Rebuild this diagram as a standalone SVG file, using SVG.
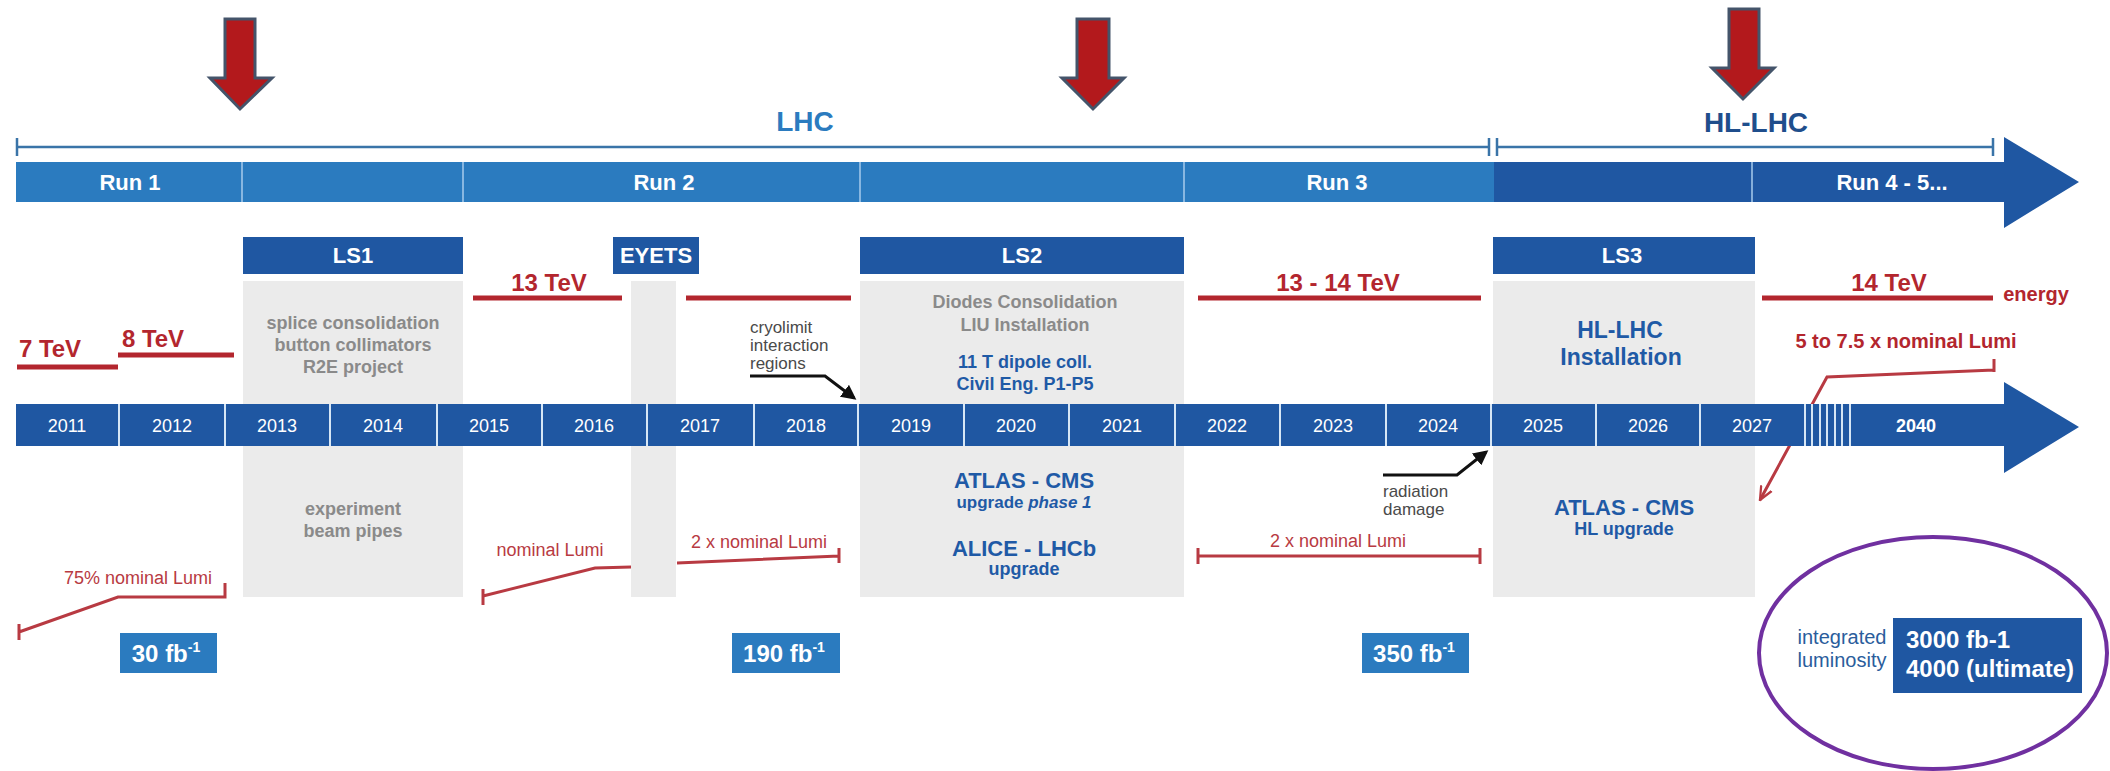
<svg xmlns="http://www.w3.org/2000/svg" width="2110" height="771" viewBox="0 0 2110 771">
<defs>
<style>
text{font-family:"Liberation Sans",Arial,sans-serif}
.run{fill:#fff;font-weight:bold;font-size:22px;text-anchor:middle}
.yr{fill:#fff;font-size:18px;text-anchor:middle}
.ls{fill:#fff;font-weight:bold;font-size:22px;text-anchor:middle}
.grey{fill:#ebebeb}
.gt{fill:#8a8a8a;font-weight:bold;font-size:18px;text-anchor:middle}
.bt{fill:#1f5aa6;font-weight:bold;text-anchor:middle}
.en{fill:#b3262e;font-weight:bold;font-size:24px;text-anchor:middle}
.eline{stroke:#b3262e;stroke-width:5;fill:none}
.lt{fill:#b83a42;font-size:18px;text-anchor:middle}
.lline{stroke:#b83a42;stroke-width:3;fill:none}
.note{fill:#4a4a4a;font-size:17px}
.div{stroke:#a8cbec;stroke-width:1.5}
.ydiv{stroke:#d6e6f5;stroke-width:2}
.fb{fill:#2b7bbf}
.fbt{fill:#fff;font-weight:bold;font-size:24px;text-anchor:middle}
.redarrow{fill:#b3191c;stroke:#44546a;stroke-width:3;stroke-linejoin:miter}
.brk{stroke:#3a74a8;stroke-width:2.5;fill:none}
</style>
<marker id="blk" viewBox="0 0 10 10" refX="8" refY="5" markerWidth="5" markerHeight="5" orient="auto">
<path d="M0,0 L10,5 L0,10 z" fill="#111"/>
</marker>
<marker id="redv" viewBox="0 0 10 10" refX="9" refY="5" markerWidth="5" markerHeight="5" orient="auto">
<path d="M0,1 L9,5 L0,9" fill="none" stroke="#b83a42" stroke-width="1.5"/>
</marker>
</defs>
<rect width="2110" height="771" fill="#fff"/>

<g id="red-arrows">
<polygon class="redarrow" points="225,19 255,19 255,78 272,78 240,109 210,78 225,78"/>
<polygon class="redarrow" points="1077,19 1109,19 1109,78 1124,78 1093,109 1062,78 1077,78"/>
<polygon class="redarrow" points="1729,9 1759,9 1759,68 1774,68 1743,99 1712,68 1729,68"/>
</g>

<g id="brackets">
<text x="805" y="131" fill="#2b7bbf" font-weight="bold" font-size="28" text-anchor="middle">LHC</text>
<text x="1756" y="132" fill="#1f4e8c" font-weight="bold" font-size="28" text-anchor="middle">HL-LHC</text>
<path class="brk" d="M17,147 H1489 M17,138 V156 M1489,138 V156"/>
<path class="brk" d="M1497,147 H1993 M1497,138 V156 M1993,138 V156"/>
</g>

<g id="run-bar">
<rect x="16" y="162" width="1478" height="40" fill="#2b7bbf"/>
<polygon points="1494,162 2004,162 2004,137 2079,182 2004,228 2004,202 1494,202" fill="#1f57a2"/>
<line class="div" x1="242" y1="162" x2="242" y2="202"/>
<line class="div" x1="463" y1="162" x2="463" y2="202"/>
<line class="div" x1="860" y1="162" x2="860" y2="202"/>
<line class="div" x1="1184" y1="162" x2="1184" y2="202"/>
<line class="div" x1="1752" y1="162" x2="1752" y2="202"/>
<text class="run" x="130" y="190">Run 1</text>
<text class="run" x="664" y="190">Run 2</text>
<text class="run" x="1337" y="190">Run 3</text>
<text class="run" x="1892" y="190">Run 4 - 5...</text>
</g>

<g id="ls1">
<rect class="grey" x="243" y="281" width="220" height="316"/>
<rect x="243" y="237" width="220" height="37" fill="#1f57a2"/>
<text class="ls" x="353" y="263">LS1</text>
<text class="gt" x="353" y="329">splice consolidation</text>
<text class="gt" x="353" y="351">button collimators</text>
<text class="gt" x="353" y="373">R2E project</text>
<text class="gt" x="353" y="515">experiment</text>
<text class="gt" x="353" y="537">beam pipes</text>
</g>

<g id="eyets">
<rect class="grey" x="631" y="281" width="45" height="316"/>
<rect x="613" y="237" width="86" height="37" fill="#1f57a2"/>
<text class="ls" x="656" y="263">EYETS</text>
</g>

<g id="ls2">
<rect class="grey" x="860" y="281" width="324" height="316"/>
<rect x="860" y="237" width="324" height="37" fill="#1f57a2"/>
<text class="ls" x="1022" y="263">LS2</text>
<text class="gt" x="1025" y="308">Diodes Consolidation</text>
<text class="gt" x="1025" y="331">LIU Installation</text>
<text class="bt" x="1025" y="368" font-size="18">11 T dipole coll.</text>
<text class="bt" x="1025" y="390" font-size="18">Civil Eng. P1-P5</text>
<text class="bt" x="1024" y="488" font-size="22">ATLAS - CMS</text>
<text class="bt" x="1024" y="508" font-size="17">upgrade <tspan font-style="italic">phase 1</tspan></text>
<text class="bt" x="1024" y="556" font-size="22">ALICE - LHCb</text>
<text class="bt" x="1024" y="575" font-size="18">upgrade</text>
</g>

<g id="ls3">
<rect class="grey" x="1493" y="281" width="262" height="316"/>
<rect x="1493" y="237" width="262" height="37" fill="#1f57a2"/>
<text class="ls" x="1622" y="263">LS3</text>
<text class="bt" x="1620" y="338" font-size="23">HL-LHC</text>
<text class="bt" x="1621" y="365" font-size="23">Installation</text>
<text class="bt" x="1624" y="515" font-size="22">ATLAS - CMS</text>
<text class="bt" x="1624" y="535" font-size="18">HL upgrade</text>
</g>

<g id="energy">
<path class="eline" d="M17,367 H118 M118,355 H234 M473,298 H622 M686,298 H851 M1198,298 H1481 M1762,298 H1993"/>
<text class="en" x="50" y="357">7 TeV</text>
<text class="en" x="153" y="347">8 TeV</text>
<text class="en" x="549" y="291">13 TeV</text>
<text class="en" x="1338" y="291">13 - 14 TeV</text>
<text class="en" x="1889" y="291">14 TeV</text>
<text x="2036" y="301" fill="#b3262e" font-weight="bold" font-size="20" text-anchor="middle">energy</text>
</g>

<g id="connectors">
<path class="lline" d="M1994,359 V372 M1994,370 L1827,377 L1760,500" marker-end="url(#redv)"/>
<path d="M750,376 H825 L854,398" stroke="#111" stroke-width="3" fill="none" marker-end="url(#blk)"/>
<path d="M1383,475 H1457 L1486,452" stroke="#111" stroke-width="3" fill="none" marker-end="url(#blk)"/>
</g>

<g id="year-bar">
<polygon points="16,404 2004,404 2004,382 2079,427 2004,473 2004,446 16,446" fill="#1f57a2"/>
<g class="ydiv">
<line x1="119" y1="404" x2="119" y2="446"/><line x1="225" y1="404" x2="225" y2="446"/>
<line x1="330" y1="404" x2="330" y2="446"/><line x1="437" y1="404" x2="437" y2="446"/>
<line x1="542" y1="404" x2="542" y2="446"/><line x1="647" y1="404" x2="647" y2="446"/>
<line x1="754" y1="404" x2="754" y2="446"/><line x1="858" y1="404" x2="858" y2="446"/>
<line x1="964" y1="404" x2="964" y2="446"/><line x1="1069" y1="404" x2="1069" y2="446"/>
<line x1="1175" y1="404" x2="1175" y2="446"/><line x1="1280" y1="404" x2="1280" y2="446"/>
<line x1="1386" y1="404" x2="1386" y2="446"/><line x1="1491" y1="404" x2="1491" y2="446"/>
<line x1="1596" y1="404" x2="1596" y2="446"/><line x1="1700" y1="404" x2="1700" y2="446"/>
<line x1="1805" y1="404" x2="1805" y2="446"/><line x1="1812" y1="404" x2="1812" y2="446"/>
<line x1="1820" y1="404" x2="1820" y2="446"/><line x1="1827" y1="404" x2="1827" y2="446"/>
<line x1="1835" y1="404" x2="1835" y2="446"/><line x1="1842" y1="404" x2="1842" y2="446"/>
<line x1="1850" y1="404" x2="1850" y2="446"/>
</g>
<text class="yr" x="67" y="432">2011</text><text class="yr" x="172" y="432">2012</text>
<text class="yr" x="277" y="432">2013</text><text class="yr" x="383" y="432">2014</text>
<text class="yr" x="489" y="432">2015</text><text class="yr" x="594" y="432">2016</text>
<text class="yr" x="700" y="432">2017</text><text class="yr" x="806" y="432">2018</text>
<text class="yr" x="911" y="432">2019</text><text class="yr" x="1016" y="432">2020</text>
<text class="yr" x="1122" y="432">2021</text><text class="yr" x="1227" y="432">2022</text>
<text class="yr" x="1333" y="432">2023</text><text class="yr" x="1438" y="432">2024</text>
<text class="yr" x="1543" y="432">2025</text><text class="yr" x="1648" y="432">2026</text>
<text class="yr" x="1752" y="432">2027</text><text class="yr" x="1916" y="432" font-weight="bold">2040</text>
</g>

<g id="notes">
<text class="note" x="750" y="333">cryolimit</text>
<text class="note" x="750" y="351">interaction</text>
<text class="note" x="750" y="369">regions</text>
<text class="note" x="1383" y="497">radiation</text>
<text class="note" x="1383" y="515">damage</text>
<text x="1906" y="348" fill="#b3262e" font-weight="bold" font-size="20" text-anchor="middle">5 to 7.5 x nominal Lumi</text>
</g>

<g id="lumi">
<path class="lline" d="M225,583 V597 H118 L19,632 M19,624 V640"/>
<text class="lt" x="138" y="584">75% nominal Lumi</text>
<path class="lline" d="M631,567 L595,568 L483,596 M483,589 V605"/>
<text class="lt" x="550" y="556">nominal Lumi</text>
<path class="lline" d="M677,563 L839,556 M839,548 V563"/>
<text class="lt" x="759" y="548">2 x nominal Lumi</text>
<path class="lline" d="M1198,556 H1480 M1198,548 V564 M1480,548 V564"/>
<text class="lt" x="1338" y="547">2 x nominal Lumi</text>
</g>

<g id="fb30"><rect class="fb" x="120" y="633" width="97" height="40"/><text class="fbt" x="166" y="662">30 fb<tspan font-size="14" dy="-10">-1</tspan></text></g>
<g id="fb190"><rect class="fb" x="732" y="633" width="108" height="40"/><text class="fbt" x="784" y="662">190 fb<tspan font-size="14" dy="-10">-1</tspan></text></g>
<g id="fb350"><rect class="fb" x="1362" y="633" width="107" height="40"/><text class="fbt" x="1414" y="662">350 fb<tspan font-size="14" dy="-10">-1</tspan></text></g>

<g id="integrated">
<text x="1842" y="644" fill="#2a5d9c" font-size="20" text-anchor="middle">integrated</text>
<text x="1842" y="667" fill="#2a5d9c" font-size="20" text-anchor="middle">luminosity</text>
<rect x="1893" y="618" width="189" height="75" fill="#1f57a2"/>
<text x="1906" y="648" fill="#fff" font-weight="bold" font-size="24">3000 fb-1</text>
<text x="1906" y="677" fill="#fff" font-weight="bold" font-size="24">4000 (ultimate)</text>
<ellipse cx="1933" cy="653" rx="174" ry="116" fill="none" stroke="#7030a0" stroke-width="4"/>
</g>
</svg>
